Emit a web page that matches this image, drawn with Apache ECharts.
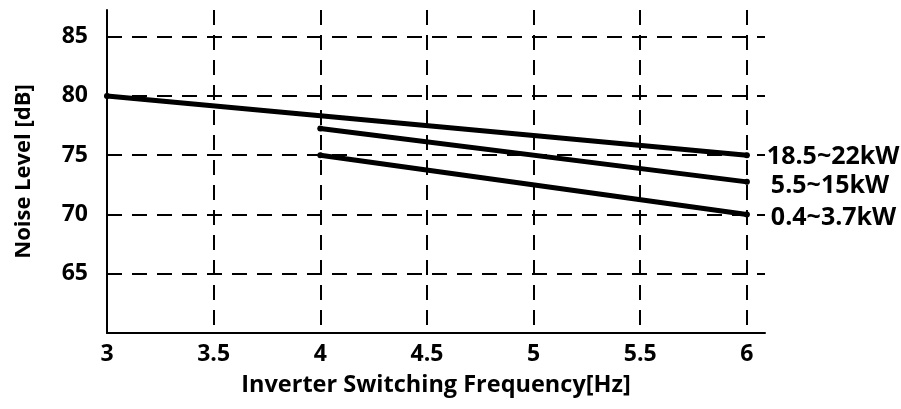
<!DOCTYPE html>
<html><head><meta charset="utf-8">
<script src="https://cdn.jsdelivr.net/npm/echarts@6/dist/echarts.min.js"></script>
<style>html,body{margin:0;padding:0;background:#fff}#c{width:901px;height:409px}</style>
</head><body><div id="c"></div>
<script>
const seriesNames = ['18.5~22kW', '5.5~15kW', '0.4~3.7kW'];
const s1 = [[3, 80], [6, 75]];
const s2 = [[4, 77.25], [6, 72.75]];
const s3 = [[4, 75], [6, 70]];
const xName = 'Inverter Switching Frequency[Hz]';
const yName = 'Noise Level [dB]';

const FONT = '"Open Sans", "Noto Sans", sans-serif';
const dashed = {show: true, showMinLine: false, showMaxLine: false, lineStyle: {color: '#000', width: 2, type: [15, 10]}};
const chart = echarts.init(document.getElementById('c'), null, {renderer: 'canvas'});
function mk(name, data, off) {
  return {
    name, type: 'line', data, symbol: 'circle', symbolSize: 6,
    itemStyle: {color: '#000'},
    lineStyle: {color: '#000', width: 5, cap: 'round'},
    endLabel: {show: true, formatter: name, color: '#000', fontFamily: FONT, fontWeight: 'bold', fontSize: 25, distance: off[0], offset: [0, off[1]]},
    animation: false, silent: true
  };
}
chart.setOption({
  backgroundColor: '#fff',
  animation: false,
  grid: {left: 107, right: 136, top: 10, bottom: 76},
  xAxis: {
    type: 'value', min: 3, max: 6.085, interval: 0.5,
    name: xName, nameLocation: 'middle', nameGap: 40,
    nameTextStyle: {color: '#000', fontFamily: FONT, fontWeight: 'bold', fontSize: 23.5},
    axisLine: {lineStyle: {color: '#000', width: 2}},
    axisTick: {show: false},
    axisLabel: {color: '#000', fontFamily: FONT, fontWeight: 'bold', fontSize: 23, margin: 10, showMaxLabel: false},
    splitLine: dashed
  },
  yAxis: {
    type: 'value', min: 60, max: 87.25, interval: 5,
    name: yName, nameLocation: 'middle', nameGap: 72, nameRotate: 90,
    nameTextStyle: {color: '#000', fontFamily: FONT, fontWeight: 'bold', fontSize: 22},
    axisLine: {show: true, lineStyle: {color: '#000', width: 2}},
    axisTick: {show: false},
    axisLabel: {color: '#000', fontFamily: FONT, fontWeight: 'bold', fontSize: 23, margin: 19, showMinLabel: false, showMaxLabel: false},
    splitLine: dashed
  },
  series: [mk(seriesNames[0], s1, [20, 2]), mk(seriesNames[1], s2, [24, 4]), mk(seriesNames[2], s3, [24, 3])]
});
</script></body></html>
